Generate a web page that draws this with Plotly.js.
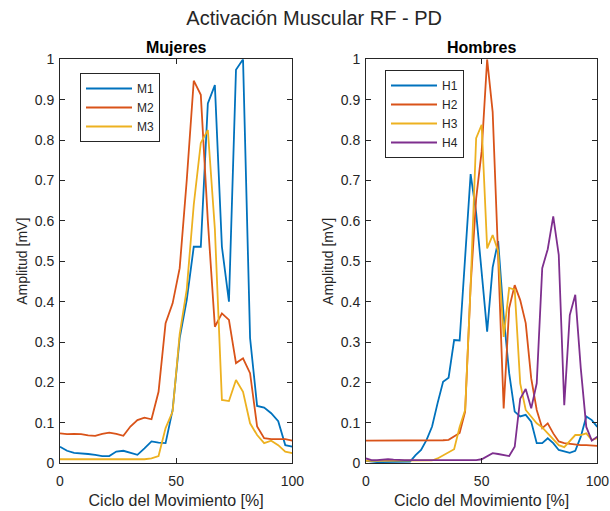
<!DOCTYPE html>
<html>
<head>
<meta charset="utf-8">
<script src="https://cdn.plot.ly/plotly-3.0.1.min.js"></script>
<style>html,body{margin:0;padding:0;background:#fff;}#chart{width:610px;height:511px;}</style>
</head>
<body>
<div id="chart"></div>
<script>
// ---- Data ----
const xMujeres = [0,3.03,6.06,9.09,12.12,15.15,18.18,21.21,24.24,27.27,30.30,33.33,36.36,39.39,42.42,45.45,48.48,51.52,54.55,57.58,60.61,63.64,66.67,69.70,72.73,75.76,78.79,81.82,84.85,87.88,90.91,93.94,96.97,100];
const M1 = [0.041,0.031,0.026,0.025,0.023,0.021,0.018,0.018,0.029,0.031,0.026,0.021,0.037,0.054,0.051,0.050,0.132,0.31,0.404,0.536,0.536,0.891,0.936,0.536,0.40,0.974,1.0,0.31,0.142,0.138,0.124,0.104,0.045,0.041];
const M2 = [0.074,0.072,0.073,0.072,0.069,0.068,0.073,0.076,0.073,0.068,0.091,0.107,0.113,0.109,0.177,0.347,0.396,0.483,0.70,0.947,0.912,0.60,0.338,0.371,0.355,0.248,0.26,0.223,0.091,0.062,0.060,0.060,0.060,0.056];
const M3 = [0.010,0.010,0.010,0.010,0.010,0.011,0.011,0.011,0.011,0.011,0.010,0.010,0.010,0.012,0.018,0.087,0.128,0.32,0.43,0.64,0.793,0.825,0.58,0.157,0.154,0.206,0.177,0.099,0.070,0.050,0.056,0.045,0.029,0.025];

const xHombres = [0,2.38,4.76,7.14,9.52,11.90,14.29,16.67,19.05,21.43,23.81,26.19,28.57,30.95,33.33,35.71,38.10,40.48,42.86,45.24,47.62,50.00,52.38,54.76,57.14,59.52,61.90,64.29,66.67,69.05,71.43,73.81,76.19,78.57,80.95,83.33,85.71,88.10,90.48,92.86,95.24,97.62,100];
const H1 = [0.006,0.004,0.003,0.003,0.003,0.003,0.003,0.003,0.004,0.020,0.033,0.058,0.091,0.149,0.202,0.212,0.305,0.304,0.52,0.716,0.62,0.47,0.326,0.485,0.55,0.365,0.223,0.128,0.116,0.120,0.103,0.050,0.050,0.062,0.050,0.033,0.029,0.026,0.031,0.066,0.116,0.107,0.090];
const H2 = [0.056,0.056,0.056,0.056,0.056,0.056,0.056,0.056,0.056,0.056,0.056,0.056,0.056,0.057,0.057,0.058,0.066,0.075,0.128,0.44,0.655,0.772,1.0,0.87,0.51,0.136,0.384,0.441,0.404,0.347,0.210,0.132,0.087,0.099,0.074,0.054,0.050,0.048,0.047,0.045,0.045,0.044,0.043];
const H3 = [0.006,0.006,0.006,0.006,0.006,0.006,0.006,0.006,0.006,0.006,0.006,0.006,0.007,0.012,0.020,0.029,0.035,0.09,0.132,0.44,0.805,0.838,0.532,0.565,0.525,0.313,0.434,0.430,0.198,0.132,0.116,0.099,0.089,0.074,0.058,0.045,0.040,0.054,0.070,0.070,0.074,0.058,0.062];
const H4 = [0.012,0.008,0.008,0.009,0.010,0.009,0.008,0.008,0.008,0.008,0.008,0.008,0.008,0.008,0.008,0.008,0.008,0.008,0.008,0.008,0.008,0.010,0.018,0.025,0.023,0.021,0.018,0.041,0.160,0.184,0.136,0.198,0.483,0.530,0.611,0.516,0.144,0.367,0.417,0.235,0.090,0.056,0.066];

const namesM = ['M1','M2','M3'];
const namesH = ['H1','H2','H3','H4'];
const colors = ['#0072BD','#D95319','#EDB120','#7E2F8E'];

const FONT = '"Liberation Sans", Arial, Helvetica, sans-serif';
const INK = '#262626';

const traces = [];
[M1,M2,M3].forEach((ys,i)=>{
  traces.push({x:xMujeres,y:ys,type:'scatter',mode:'lines',name:namesM[i],
    line:{color:colors[i],width:1.8},xaxis:'x',yaxis:'y',legend:'legend'});
});
[H1,H2,H3,H4].forEach((ys,i)=>{
  traces.push({x:xHombres,y:ys,type:'scatter',mode:'lines',name:namesH[i],
    line:{color:colors[i],width:1.8},xaxis:'x2',yaxis:'y2',legend:'legend2'});
});

function xax(domain, anchor){
  return {domain:domain, anchor:anchor, range:[0,100], dtick:50, tick0:0,
    showline:true, linecolor:INK, linewidth:1, mirror:'ticks', ticks:'inside', ticklen:5,
    tickcolor:INK, showgrid:false, zeroline:false, ticklabelstandoff:5,
    tickfont:{family:FONT,size:14,color:INK},
    title:{text:'Ciclo del Movimiento [%]', font:{family:FONT,size:16,color:INK}, standoff:6}};
}
function yax(domain, anchor){
  return {domain:domain, anchor:anchor, range:[0,1], dtick:0.1, tick0:0,
    showline:true, linecolor:INK, linewidth:1, mirror:'ticks', ticks:'inside', ticklen:5,
    tickcolor:INK, showgrid:false, zeroline:false, ticklabelstandoff:2,
    tickfont:{family:FONT,size:14,color:INK},
    title:{text:'Amplitud [mV]', font:{family:FONT,size:14,color:INK}, standoff:3}};
}
const yDom = [1-463.3/511, 1-59.3/511];
const legendStyle = {xanchor:'left', yanchor:'top', bgcolor:'#ffffff', bordercolor:INK, borderwidth:1,
  font:{family:FONT,size:12,color:INK}, itemwidth:46, tracegroupgap:0};

const layout = {
  width:610, height:511, margin:{l:0,r:0,t:0,b:0},
  paper_bgcolor:'#ffffff', plot_bgcolor:'#ffffff',
  font:{family:FONT,color:INK},
  showlegend:true,
  title:{text:'Activación Muscular RF - PD', x:0.515, xanchor:'center', y:1-17.5/511, yanchor:'middle',
    font:{family:FONT,size:20,color:INK}},
  xaxis: xax([60/610, 292.3/610],'y'),
  yaxis: yax(yDom,'x'),
  xaxis2: xax([366/610, 597.3/610],'y2'),
  yaxis2: yax(yDom,'x2'),
  legend: Object.assign({x:80/610, y:1-73/511}, legendStyle),
  legend2: Object.assign({x:385/610, y:1-70/511}, legendStyle),
  annotations:[
    {text:'<b>Mujeres</b>', xref:'paper', yref:'paper', x:(60+292.3)/2/610, y:1-47/511, xanchor:'center', yanchor:'middle', showarrow:false, font:{family:FONT,size:16,color:'#000'}},
    {text:'<b>Hombres</b>', xref:'paper', yref:'paper', x:(366+597.3)/2/610, y:1-47/511, xanchor:'center', yanchor:'middle', showarrow:false, font:{family:FONT,size:16,color:'#000'}}
  ]
};
Plotly.newPlot('chart', traces, layout, {displayModeBar:false, staticPlot:true});
</script>
</body>
</html>
